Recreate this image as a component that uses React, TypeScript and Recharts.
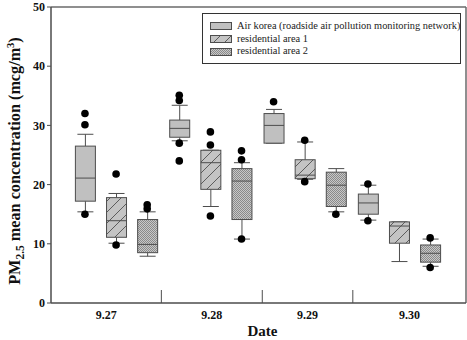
import React from 'react';
import { ComposedChart, Bar, Scatter, XAxis, YAxis, Legend, ReferenceLine } from 'recharts';

const dates = ['9.27', '9.28', '9.29', '9.30'];
const seriesNames = [
  'Air korea (roadside air pollution monitoring network)',
  'residential area 1',
  'residential area 2',
];
const yTicks = [0, 10, 20, 30, 40, 50];

// [whisker low, Q1, median, Q3, whisker high] per date
const airBox = [
  [15.4, 17.2, 21.1, 26.5, 28.5],
  [27.4, 28.0, 29.5, 30.9, 33.4],
  [27.0, 27.0, 30.0, 32.0, 32.7],
  [14.0, 15.0, 16.9, 18.4, 19.9],
];
const res1Box = [
  [10.1, 11.1, 13.9, 17.8, 18.5],
  [16.3, 19.2, 23.7, 25.8, 25.8],
  [20.9, 21.0, 21.6, 24.2, 27.2],
  [7.0, 10.1, 13.0, 13.7, 13.7],
];
const res2Box = [
  [7.9, 8.5, 9.9, 14.1, 15.4],
  [10.8, 14.1, 20.6, 22.7, 23.7],
  [15.4, 16.3, 19.9, 22.1, 22.7],
  [6.2, 6.9, 8.4, 9.8, 10.8],
];

const airOut = [[32.0, 30.1, 15.0], [35.1, 34.2, 27.0, 24.0], [34.0], [20.1, 13.9]];
const res1Out = [[21.8, 9.8], [28.9, 26.7, 14.7], [27.5, 20.5], []];
const res2Out = [[16.6, 15.9], [25.7, 24.2, 10.8], [15.0], [11.0, 6.0]];

// category boundaries on the x axis (group units)
const boundaries = [1.48, 2.55, 3.51];

const X_DOMAIN: [number, number] = [0.31, 4.71];
const BOX_OFFSET = 0.33;
const fills = ['#c0c0c0', 'url(#hatchP)', 'url(#dotsP)'];
const STROKE = '#4d4d4d';
const FONT = "'Liberation Serif', 'Times New Roman', serif";

const allBoxes = [airBox, res1Box, res2Box];
const allOut = [airOut, res1Out, res2Out];

const boxData = allBoxes.flatMap((series, s) =>
  series.map((st, d) => ({
    x: d + 1 + (s - 1) * BOX_OFFSET,
    range: [st[0], st[4]],
    stats: st,
    s,
  }))
);

const outlierData = allOut.flatMap((series, s) =>
  series.flatMap((vals, d) => vals.map((v) => ({ x: d + 1 + (s - 1) * BOX_OFFSET, y: v })))
);

const edges = [X_DOMAIN[0], ...boundaries, X_DOMAIN[1]];
const labelPos = dates.map((_, i) => (edges[i] + edges[i + 1]) / 2);
const xTicks = [...boundaries, ...labelPos];

const BoxShape = (props: any) => {
  const { x, y, width, height, payload } = props;
  if (!payload) return null;
  const [lo, q1, med, q3, hi] = payload.stats;
  const ppu = height / (hi - lo);
  const py = (v: number) => y + (hi - v) * ppu;
  const cx = x + width / 2;
  const cap = width * 0.4;
  return (
    <g>
      <line x1={cx} x2={cx} y1={py(hi)} y2={py(q3)} stroke={STROKE} strokeWidth={1} />
      <line x1={cx} x2={cx} y1={py(q1)} y2={py(lo)} stroke={STROKE} strokeWidth={1} />
      <line x1={cx - cap} x2={cx + cap} y1={py(hi)} y2={py(hi)} stroke={STROKE} strokeWidth={1} />
      <line x1={cx - cap} x2={cx + cap} y1={py(lo)} y2={py(lo)} stroke={STROKE} strokeWidth={1} />
      <rect x={x} y={py(q3)} width={width} height={py(q1) - py(q3)} fill={fills[payload.s]} stroke={STROKE} strokeWidth={1} />
      <line x1={x} x2={x + width} y1={py(med)} y2={py(med)} stroke={STROKE} strokeWidth={1} />
    </g>
  );
};

const Dot = (props: any) => <circle cx={props.cx} cy={props.cy} r={3.8} fill="#000" />;

const XTick = (props: any) => {
  const { x, y, payload } = props;
  const v = payload.value;
  if (boundaries.includes(v)) {
    return <line x1={x} x2={x} y1={y} y2={y - 13} stroke={STROKE} strokeWidth={1} />;
  }
  const i = labelPos.indexOf(v);
  return (
    <text x={x} y={y + 15.5} textAnchor="middle" fontFamily={FONT} fontWeight="bold" fontSize={12} fill="#111">
      {dates[i]}
    </text>
  );
};

const YLabel = (props: any) => {
  const vb = props.viewBox || { x: 0, y: 7, width: 51, height: 296 };
  const cx = vb.x + 19.5;
  const cy = vb.y + vb.height / 2 + 6;
  return (
    <text
      x={cx}
      y={cy}
      transform={`rotate(-90 ${cx} ${cy})`}
      textAnchor="middle"
      fontFamily={FONT}
      fontWeight="bold"
      fontSize={16.2}
      fill="#111"
    >
      <tspan>PM</tspan>
      <tspan dy={4} fontSize={11.5}>2.5</tspan>
      <tspan dy={-4}> mean concentration (mcg/m</tspan>
      <tspan dy={-6} fontSize={10.5}>3</tspan>
      <tspan dy={6}>)</tspan>
    </text>
  );
};

const LegendBox = () => (
  <div
    style={{
      width: '100%',
      height: '100%',
      boxSizing: 'border-box',
      border: '1px solid #333',
      background: '#fff',
      paddingTop: 6,
      paddingLeft: 7,
      fontFamily: FONT,
      fontSize: 10.4,
      color: '#222',
      overflow: 'hidden',
    }}
  >
    {seriesNames.map((n, i) => (
      <div key={n} style={{ height: 12.7, lineHeight: '12.7px', display: 'flex', alignItems: 'center', whiteSpace: 'nowrap' }}>
        <svg width={22} height={8} style={{ marginRight: 5, flex: 'none' }}>
          <rect x={0.5} y={0.5} width={21} height={7} fill={fills[i]} stroke={STROKE} strokeWidth={1} />
        </svg>
        <span>{n}</span>
      </div>
    ))}
  </div>
);

export default function App() {
  return (
    <div style={{ position: 'absolute', left: 0, top: 0, width: 467, height: 340, background: '#fff' }}>
      <svg width={0} height={0} style={{ position: 'absolute' }}>
        <defs>
          <pattern id="hatchP" patternUnits="userSpaceOnUse" width={11} height={11}>
            <rect width={11} height={11} fill="#c4c4c4" />
            <path d="M0,11 L11,0 M-2,2 L2,-2 M9,13 L13,9" stroke="#505050" strokeWidth={0.9} />
          </pattern>
          <pattern id="dotsP" patternUnits="userSpaceOnUse" width={2} height={2}>
            <rect width={2} height={2} fill="#c8c8c8" />
            <rect x={0} y={0} width={1} height={1} fill="#8a8a8a" />
            <rect x={1} y={1} width={1} height={1} fill="#8a8a8a" />
          </pattern>
        </defs>
      </svg>
      <ComposedChart width={467} height={340} data={boxData} margin={{ top: 7, right: 1, left: 0, bottom: 0 }}>
        <XAxis
          dataKey="x"
          type="number"
          domain={X_DOMAIN}
          allowDataOverflow
          ticks={xTicks}
          interval={0}
          tickSize={0}
          tickMargin={0}
          tickLine={false}
          tick={<XTick />}
          height={37}
          axisLine={{ stroke: STROKE, strokeWidth: 1.5 }}
          label={{
            value: 'Date',
            position: 'insideBottom',
            offset: 4,
            dx: 4,
            style: { fontFamily: FONT, fontWeight: 'bold', fontSize: 15, fill: '#111' },
          }}
        />
        <YAxis
          type="number"
          domain={[0, 50]}
          ticks={yTicks}
          interval={0}
          width={51}
          tickSize={4}
          tickMargin={2}
          tickLine={{ stroke: STROKE }}
          axisLine={{ stroke: STROKE, strokeWidth: 1.5 }}
          tick={{ fontFamily: FONT, fontWeight: 'bold', fontSize: 12, fill: '#111' }}
          label={<YLabel />}
        />
        <ReferenceLine y={50} stroke="#6a6a6a" strokeWidth={1.5} />
        <ReferenceLine x={X_DOMAIN[1]} stroke="#6a6a6a" strokeWidth={1.5} />
        <Bar dataKey="range" barSize={20} shape={<BoxShape />} isAnimationActive={false} />
        <Scatter data={outlierData} dataKey="y" shape={<Dot />} isAnimationActive={false} />
        <Legend
          layout="vertical"
          align="center"
          verticalAlign="middle"
          content={<LegendBox />}
          wrapperStyle={{ left: 202, top: 13, width: 259, height: 51, right: 'auto', bottom: 'auto' }}
        />
      </ComposedChart>
    </div>
  );
}
